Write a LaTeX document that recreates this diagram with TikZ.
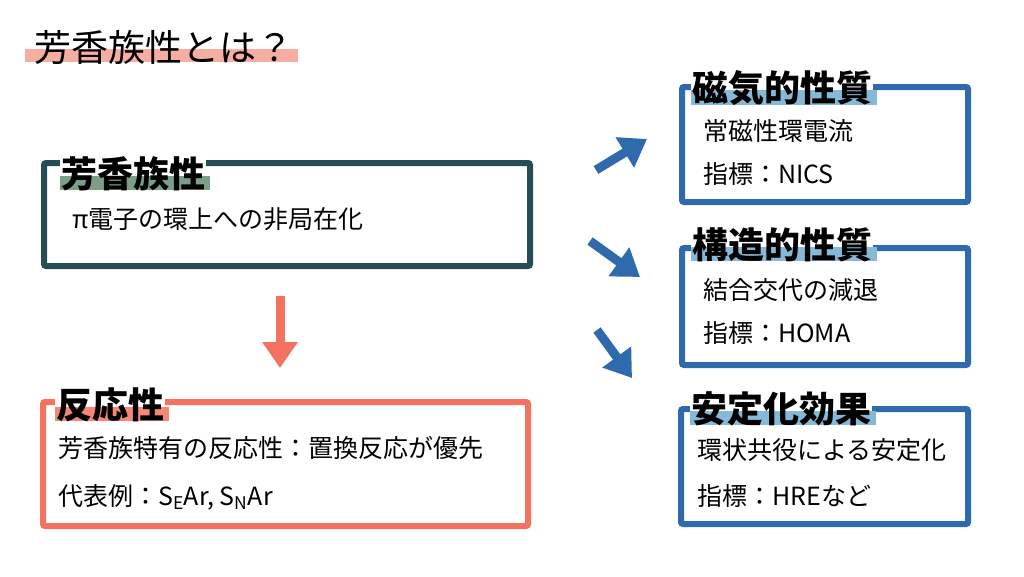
\documentclass[tikz,border=0pt]{standalone}
\usepackage{fontspec}
\setmainfont{Noto Sans CJK JP}
\usetikzlibrary{positioning,arrows.meta,backgrounds}
\definecolor{teal}{HTML}{264D55}
\definecolor{salmon}{HTML}{F4725F}
\definecolor{navy}{HTML}{2F6AAD}
\definecolor{hlgreen}{HTML}{7A9E87}
\definecolor{hlpink}{HTML}{F6ADA2}
\definecolor{hlblue}{HTML}{86B8D8}
\begin{document}
\begin{tikzpicture}[x=1pt,y=-1pt, line join=round]
        % Stili
        \tikzset{
          frame/.style={draw=#1, line width=6pt, rounded corners=2pt},
          head/.style={font=\bfseries\fontsize{36}{38}\selectfont, inner sep=1pt, anchor=west},
          body/.style={font=\fontsize{25}{27}\selectfont, inner sep=0pt, anchor=west},
          bigarrow/.style={draw=#1, line width=9pt, -{Triangle[length=26pt,width=34pt]}}
        }
        \useasboundingbox (0,0) rectangle (1024,576);

        % --- Titolo ---
        \node [head, font=\fontsize{37}{39}\selectfont] (title) at (33,47) {芳香族性とは？};

        % --- Riquadri ---
        \coordinate (aro_nw) at (44,163);
        \coordinate (aro_se) at (530,266);
        \node [head] (aro_head) at (60,174) {芳香族性};
        \node [body] (aro_l1) at (72,219) {π電子の環上への非局在化};

        \coordinate (rea_nw) at (43,402);
        \coordinate (rea_se) at (528,526);
        \node [head] (rea_head) at (55,405) {反応性};
        \node [body] (rea_l1) at (58,448) {芳香族特有の反応性：置換反応が優先};
        \node [body] (rea_l2) at (58,497) {代表例：S\textsubscript{E}Ar, S\textsubscript{N}Ar};

        \coordinate (mag_nw) at (682,87);
        \coordinate (mag_se) at (968,202);
        \node [head] (mag_head) at (691,88) {磁気的性質};
        \node [body] (mag_l1) at (703,131) {常磁性環電流};
        \node [body] (mag_l2) at (703,174) {指標：NICS};

        \coordinate (str_nw) at (682,248);
        \coordinate (str_se) at (968,365);
        \node [head] (str_head) at (691,245) {構造的性質};
        \node [body] (str_l1) at (703,290) {結合交代の減退};
        \node [body] (str_l2) at (703,333) {指標：HOMA};

        \coordinate (sta_nw) at (681,409);
        \coordinate (sta_se) at (968,524);
        \node [head] (sta_head) at (690,409) {安定化効果};
        \node [body] (sta_l1) at (697,450) {環状共役による安定化};
        \node [body] (sta_l2) at (697,496) {指標：HREなど};

        % --- Cornici ed evidenziature ---
        \begin{scope}[on background layer]
          \draw [frame=teal] (aro_nw) rectangle (aro_se);
          \draw [frame=salmon] (rea_nw) rectangle (rea_se);
          \draw [frame=navy] (mag_nw) rectangle (mag_se);
          \draw [frame=navy] (str_nw) rectangle (str_se);
          \draw [frame=navy] (sta_nw) rectangle (sta_se);
          \foreach \h in {aro_head, rea_head, mag_head, str_head, sta_head}
            \fill [white] (\h.north west) rectangle ([yshift=-4pt]\h.south east);
          \fill [hlpink] ([xshift=-8pt,yshift=-2pt]title.west) rectangle ([xshift=4pt,yshift=3pt]title.south east);
          \fill [hlgreen] ([yshift=-2pt]aro_head.west) rectangle ([xshift=4pt,yshift=2pt]aro_head.south east);
          \fill [salmon!85] ([yshift=-2pt]rea_head.west) rectangle ([xshift=4pt,yshift=2pt]rea_head.south east);
          \foreach \h in {mag_head, str_head, sta_head}
            \fill [hlblue] ([yshift=-2pt]\h.west) rectangle ([xshift=4pt,yshift=2pt]\h.south east);
        \end{scope}

        % --- Frecce ---
        \coordinate (down_a) at (280,296);
        \coordinate (down_b) at (280,368);
        \draw [bigarrow=salmon] (down_a) -- (down_b);

        \coordinate (up_a) at (596,170);
        \coordinate (up_b) at (647,139);
        \draw [bigarrow=navy] (up_a) -- (up_b);
        \coordinate (mid_a) at (590,241);
        \coordinate (mid_b) at (640,277);
        \draw [bigarrow=navy] (mid_a) -- (mid_b);
        \coordinate (low_a) at (597,330);
        \coordinate (low_b) at (632,378);
        \draw [bigarrow=navy] (low_a) -- (low_b);
\end{tikzpicture}
\end{document}
